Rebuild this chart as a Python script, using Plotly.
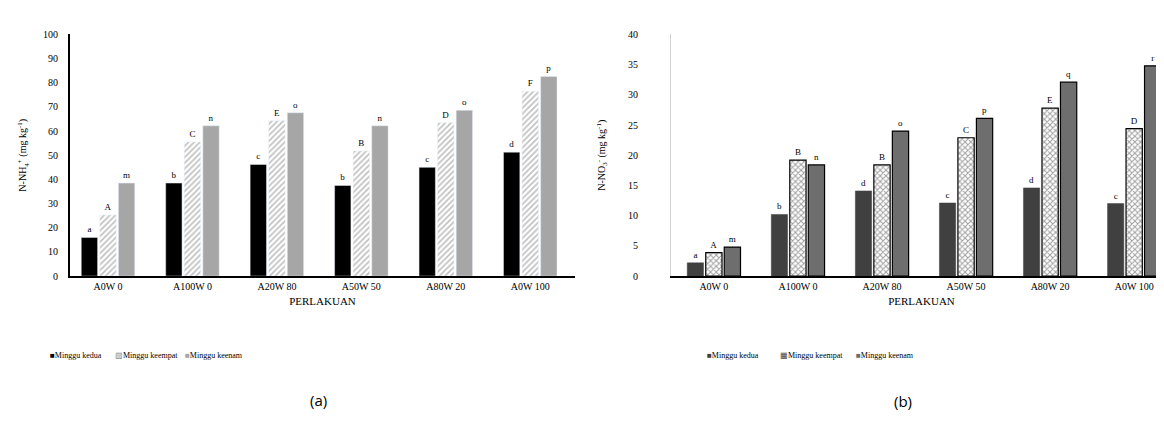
import plotly.graph_objects as go

categories = ["A0W 0", "A100W 0", "A20W 80", "A50W 50", "A80W 20", "A0W 100"]
series_names = ["Minggu kedua", "Minggu keempat", "Minggu keenam"]

# (a) N-NH4+
nh4_kedua = [16.0, 38.5, 46.2, 37.5, 45.0, 51.3]
nh4_keempat = [25.3, 55.5, 64.3, 51.8, 63.5, 76.5]
nh4_keenam = [38.5, 62.2, 67.6, 62.2, 68.6, 82.6]
nh4_lbl_kedua = ["a", "b", "c", "b", "c", "d"]
nh4_lbl_keempat = ["A", "C", "E", "B", "D", "F"]
nh4_lbl_keenam = ["m", "n", "o", "n", "o", "p"]

# (b) N-NO3-
no3_kedua = [2.2, 10.2, 14.1, 12.1, 14.6, 12.0]
no3_keempat = [3.9, 19.2, 18.4, 22.9, 27.8, 24.4]
no3_keenam = [4.8, 18.4, 24.0, 26.1, 32.1, 34.8]
no3_lbl_kedua = ["a", "b", "d", "c", "d", "c"]
no3_lbl_keempat = ["A", "B", "B", "C", "E", "D"]
no3_lbl_keenam = ["m", "n", "o", "p", "q", "r"]

FONT = "Liberation Serif"
tfont = dict(family=FONT, size=9, color="black")

fig = go.Figure()

# left chart traces
fig.add_trace(go.Bar(x=categories, y=nh4_kedua, name=series_names[0], text=nh4_lbl_kedua,
                     textposition="outside", textfont=tfont, cliponaxis=False, showlegend=False,
                     marker=dict(color="black"), xaxis="x", yaxis="y"))
fig.add_trace(go.Bar(x=categories, y=nh4_keempat, name=series_names[1], text=nh4_lbl_keempat,
                     textposition="outside", textfont=tfont, cliponaxis=False, showlegend=False,
                     marker=dict(color="white",
                                 pattern=dict(shape="/", fgcolor="#7f7f7f", bgcolor="white",
                                              size=4, solidity=0.4)),
                     xaxis="x", yaxis="y"))
fig.add_trace(go.Bar(x=categories, y=nh4_keenam, name=series_names[2], text=nh4_lbl_keenam,
                     textposition="outside", textfont=tfont, cliponaxis=False, showlegend=False,
                     marker=dict(color="#a6a6a6"), xaxis="x", yaxis="y"))

# right chart traces
fig.add_trace(go.Bar(x=categories, y=no3_kedua, name=series_names[0], text=no3_lbl_kedua,
                     textposition="outside", textfont=tfont, cliponaxis=False, showlegend=False,
                     marker=dict(color="#404040", line=dict(color="#404040", width=0.5)),
                     xaxis="x2", yaxis="y2"))
fig.add_trace(go.Bar(x=categories, y=no3_keempat, name=series_names[1], text=no3_lbl_keempat,
                     textposition="outside", textfont=tfont, cliponaxis=False, showlegend=False,
                     marker=dict(color="white", line=dict(color="black", width=1.2),
                                 pattern=dict(shape="x", fgcolor="#404040", bgcolor="white",
                                              size=4, solidity=0.45)),
                     xaxis="x2", yaxis="y2"))
fig.add_trace(go.Bar(x=categories, y=no3_keenam, name=series_names[2], text=no3_lbl_keenam,
                     textposition="outside", textfont=tfont, cliponaxis=False, showlegend=False,
                     marker=dict(color="#6e6e6e", line=dict(color="black", width=1.2)),
                     xaxis="x2", yaxis="y2"))

H = 430.0
W = 1164.0
ydom = [(H - 270) / H, (H - 22) / H]

axis_common = dict(tickfont=dict(family=FONT, size=10, color="black"), showgrid=False, zeroline=False)

# compact legends drawn as text (symbol + series name)
leg_left_sym = ["■", "▨", "■"]
leg_left_col = ["black", "#8a8a8a", "#a6a6a6"]
leg_left_x = [40, 105, 175]
leg_right_sym = ["■", "▦", "■"]
leg_right_col = ["#404040", "#404040", "#6e6e6e"]
leg_right_x = [697, 770, 846]

annotations = []
for sym, col, xp, name in zip(leg_left_sym, leg_left_col, leg_left_x, series_names):
    annotations.append(dict(text=f"<span style='color:{col}'>{sym}</span>{name}",
                            x=xp / W, y=1 - 351 / H, xref="paper", yref="paper",
                            xanchor="left", yanchor="middle", showarrow=False,
                            font=dict(family=FONT, size=8, color="black")))
for sym, col, xp, name in zip(leg_right_sym, leg_right_col, leg_right_x, series_names):
    annotations.append(dict(text=f"<span style='color:{col}'>{sym}</span>{name}",
                            x=xp / W, y=1 - 352 / H, xref="paper", yref="paper",
                            xanchor="left", yanchor="middle", showarrow=False,
                            font=dict(family=FONT, size=8, color="black")))
annotations += [
    dict(text="(a)", x=300 / W, y=1 - 409 / H, xref="paper", yref="paper",
         showarrow=False, font=dict(family="Open Sans", size=15, color="black")),
    dict(text="(b)", x=906 / W, y=1 - 411 / H, xref="paper", yref="paper",
         showarrow=False, font=dict(family="Open Sans", size=15, color="black")),
]

fig.update_layout(
    width=1164, height=430,
    margin=dict(l=0, r=0, t=0, b=0),
    paper_bgcolor="white", plot_bgcolor="white",
    barmode="group", bargap=0.34, bargroupgap=0.12,
    font=dict(family=FONT, size=9, color="black"),
    showlegend=False,
    xaxis=dict(domain=[62 / W, 567 / W], range=[-0.45, 5.53], type="category",
               showline=True, linecolor="black", linewidth=2, ticks="",
               title=dict(text="PERLAKUAN", font=dict(family=FONT, size=11), standoff=6),
               anchor="y", **axis_common),
    yaxis=dict(domain=ydom, range=[0, 100], dtick=10, showline=True, linecolor="black",
               linewidth=2, ticks="", anchor="x", ticklabelstandoff=8,
               title=dict(text="N-NH<sub>4</sub><sup>+</sup> (mg kg<sup>-1</sup>)",
                          font=dict(family=FONT, size=10), standoff=14),
               **axis_common),
    xaxis2=dict(domain=[663 / W, 1.0], range=[-0.51, 5.45], type="category",
                showline=True, linecolor="black", linewidth=2, ticks="",
                title=dict(text="PERLAKUAN", font=dict(family=FONT, size=11), standoff=6),
                anchor="y2", **axis_common),
    yaxis2=dict(domain=ydom, range=[0, 40], dtick=5, showline=True, linecolor="#d0d0d0",
                linewidth=1, ticks="", anchor="x2", ticklabelstandoff=30,
                title=dict(text="N-NO<sub>3</sub><sup>-</sup> (mg kg<sup>-1</sup>)",
                           font=dict(family=FONT, size=10), standoff=20),
                **axis_common),
    annotations=annotations,
)

fig.write_html("out.html")
